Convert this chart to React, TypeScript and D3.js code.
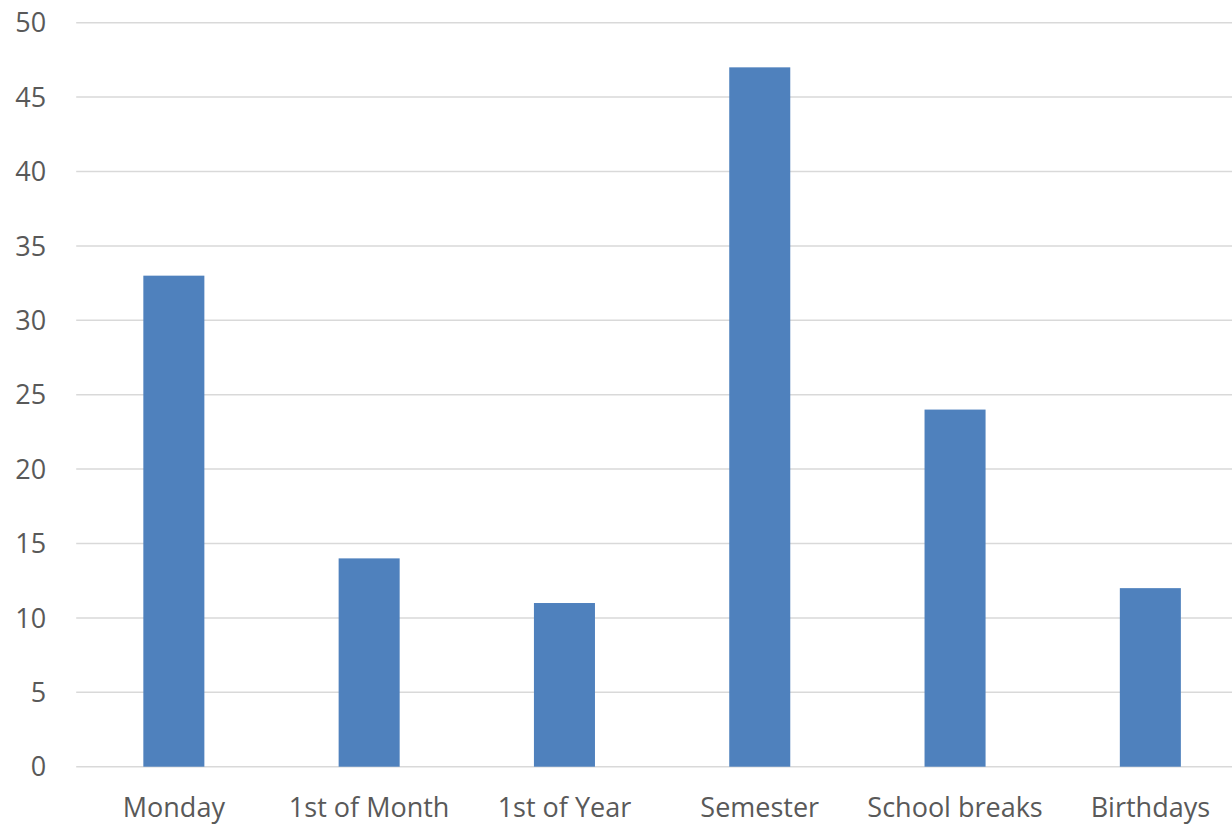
import React, { useEffect, useRef } from "react";
import * as d3 from "d3";

const categories = ["Monday", "1st of Month", "1st of Year", "Semester", "School breaks", "Birthdays"];
const values = [33, 14, 11, 47, 24, 12];
const yTicks = [0, 5, 10, 15, 20, 25, 30, 35, 40, 45, 50];

const App = () => {
  const ref = useRef<SVGSVGElement>(null);

  useEffect(() => {
    const width = 1232,
      height = 825;
    const margin = { top: 22.7, right: -16, bottom: 58.3, left: 76.2 };
    const innerW = width - margin.left - margin.right;
    const innerH = height - margin.top - margin.bottom;

    const svg = d3.select(ref.current);
    svg.selectAll("*").remove();

    const g = svg.append("g").attr("transform", `translate(${margin.left},${margin.top})`);

    const x = d3
      .scaleBand()
      .domain(categories)
      .range([0, innerW])
      .paddingInner(0.6875)
      .paddingOuter(0.34375);

    const y = d3.scaleLinear().domain([0, 50]).range([innerH, 0]);

    const font = "'Open Sans', 'Liberation Sans', sans-serif";

    // gridlines
    g.selectAll("line.grid")
      .data(yTicks)
      .join("line")
      .attr("class", "grid")
      .attr("x1", 0)
      .attr("x2", innerW)
      .attr("y1", (d) => y(d))
      .attr("y2", (d) => y(d))
      .attr("stroke", "#d9d9d9")
      .attr("stroke-width", 1.5);

    // bars
    g.selectAll("rect")
      .data(values)
      .join("rect")
      .attr("x", (_, i) => x(categories[i])!)
      .attr("y", (d) => y(d))
      .attr("width", x.bandwidth())
      .attr("height", (d) => innerH - y(d))
      .attr("fill", "#4f81bd");

    // y labels
    g.selectAll("text.ylab")
      .data(yTicks)
      .join("text")
      .attr("class", "ylab")
      .attr("x", -30)
      .attr("y", (d) => y(d))
      .attr("dy", "0.36em")
      .attr("text-anchor", "end")
      .attr("font-family", font)
      .attr("font-size", 27)
      .attr("fill", "#595959")
      .text((d) => d);

    // x labels
    g.selectAll("text.xlab")
      .data(categories)
      .join("text")
      .attr("class", "xlab")
      .attr("x", (d) => x(d)! + x.bandwidth() / 2)
      .attr("y", innerH + 41)
      .attr("dy", "0.36em")
      .attr("text-anchor", "middle")
      .attr("font-family", font)
      .attr("font-size", 27)
      .attr("fill", "#595959")
      .text((d) => d);
  }, []);

  return (
    <svg
      ref={ref}
      width={1232}
      height={825}
      style={{ position: "absolute", left: 0, top: 0, background: "#fff" }}
    />
  );
};

export default App;
